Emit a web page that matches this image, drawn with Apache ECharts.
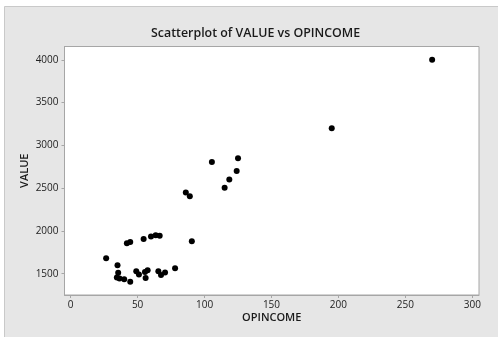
<!DOCTYPE html>
<html>
<head>
<meta charset="utf-8">
<script src="https://cdn.jsdelivr.net/npm/echarts@6/dist/echarts.min.js"></script>
<style>
  html, body { margin: 0; padding: 0; background: #ffffff; }
  #chart { width: 498px; height: 337px; }
</style>
</head>
<body>
<div id="chart"></div>
<script>
// Operating income (x) and value (y) for each company
const opincome = [26.5, 35, 35.5, 34.5, 36.5, 40, 44.5, 42, 44.5, 54.5, 60, 63.5, 66.5, 90.5,
  49, 51, 55.5, 57.5, 56, 65.5, 67.5, 70.5, 78, 86, 89, 105.5, 115, 118.5, 124, 125, 195, 270];
const value = [1680, 1600, 1510, 1455, 1445, 1435, 1405, 1855, 1870, 1905, 1935, 1950, 1945, 1880,
  1530, 1490, 1520, 1540, 1450, 1530, 1485, 1515, 1565, 2450, 2405, 2805, 2505, 2600, 2700, 2850, 3200, 4000];

const xTicks = [0, 50, 100, 150, 200, 250, 300];
const yTicks = [1500, 2000, 2500, 3000, 3500, 4000];

const points = opincome.map((x, i) => [x, value[i]]);

const labelFont = { fontFamily: 'Open Sans', fontSize: 10, color: '#222222' };
const nameFont = { fontFamily: 'Open Sans', fontSize: 11, fontWeight: 600, color: '#1a1a1a' };

const chart = echarts.init(document.getElementById('chart'), null, { renderer: 'canvas' });
chart.setOption({
  backgroundColor: '#ffffff',
  animation: false,
  graphic: [{
    type: 'rect',
    z: -10,
    shape: { x: 4.5, y: 6.5, width: 500, height: 340 },
    style: { fill: '#e6e6e6', stroke: '#c9c9c9', lineWidth: 1 }
  }],
  title: {
    text: 'Scatterplot of VALUE vs OPINCOME',
    left: 146,
    top: 22,
    textStyle: { fontFamily: 'Open Sans', fontSize: 12.4, fontWeight: 600, color: '#1a1a1a' }
  },
  grid: {
    left: 64.5, top: 46.5, width: 414.5, height: 248.5,
    show: true, backgroundColor: '#ffffff', borderColor: '#a6a6a6', borderWidth: 1
  },
  xAxis: {
    type: 'value',
    min: -4.6, max: 305,
    name: 'OPINCOME',
    nameLocation: 'middle',
    nameGap: 17,
    nameMoveOverlap: false,
    nameTextStyle: nameFont,
    splitLine: { show: false },
    axisLine: { show: true, onZero: false, lineStyle: { color: '#a6a6a6' } },
    axisTick: { show: true, length: 3, customValues: xTicks, lineStyle: { color: '#a6a6a6' } },
    axisLabel: { margin: 5, customValues: xTicks, formatter: v => String(v), ...labelFont }
  },
  yAxis: {
    type: 'value',
    min: 1251, max: 4156,
    name: 'VALUE',
    nameLocation: 'middle',
    nameGap: 34,
    nameMoveOverlap: false,
    nameTextStyle: nameFont,
    splitLine: { show: false },
    axisLine: { show: true, onZero: false, lineStyle: { color: '#a6a6a6' } },
    axisTick: { show: true, length: 3, customValues: yTicks, lineStyle: { color: '#a6a6a6' } },
    axisLabel: { margin: 6, customValues: yTicks, formatter: v => String(v), ...labelFont }
  },
  series: [{
    type: 'scatter',
    data: points,
    symbol: 'circle',
    symbolSize: 6,
    itemStyle: { color: '#000000', opacity: 1 }
  }]
});
</script>
</body>
</html>
